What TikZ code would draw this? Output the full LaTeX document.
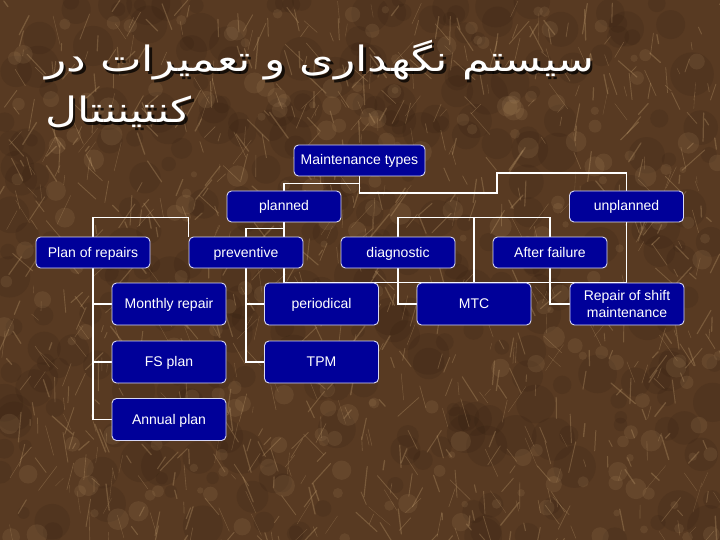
\documentclass[tikz,border=0pt]{standalone}
\usepackage{fontspec}
\usepackage{graphicx}
\setmainfont{Liberation Sans}
\newfontfamily\persianfont[Script=Arabic]{DejaVu Sans}
\TeXXeTstate=1
\usetikzlibrary{backgrounds}
\pgfdeclarelayer{marble}
\pgfsetlayers{marble,background,main}
\definecolor{boxblue}{RGB}{0,0,153}
\definecolor{boxline}{RGB}{215,215,245}
\definecolor{stone}{RGB}{88,58,34}
\definecolor{vein}{RGB}{200,164,116}
\definecolor{pit}{RGB}{40,24,13}
\newcommand{\titlefont}{\persianfont\fontsize{35}{40}\selectfont}
\tikzset{
  boxbase/.style={draw=boxline, fill=boxblue, rounded corners=4.5pt, text=white,
    line width=0.9pt, minimum width=114pt, minimum height=31pt, inner sep=2pt,
    align=center, font=\fontsize{14}{16.5}\selectfont},
  box/.style={boxbase, text height=11pt, text depth=2pt},
  tallbox/.style={box, minimum height=42pt},
  twolinebox/.style={boxbase, minimum height=42pt},
  link/.style={draw=white, line width=1.8pt},
  streak/.style={draw=vein, opacity=0.3, line cap=round},
  titletext/.style={anchor=base west, inner sep=0pt, text=white}
}
\begin{document}
\begin{tikzpicture}[x=1pt,y=-1pt]
\useasboundingbox (0,0) rectangle (720,540);
\begin{pgfonlayer}{marble}
\fill[stone] (0,0) rectangle (720,540);
\begin{scope}
\clip (0,0) rectangle (720,540);
\pgfmathsetseed{11}
\foreach \i in {1,...,320}{
  \pgfmathsetmacro{\px}{720*rnd}
  \pgfmathsetmacro{\py}{540*rnd}
  \pgfmathsetmacro{\pr}{6+16*rnd}
  \fill[pit, opacity=0.14] (\px,\py) circle (\pr);
}
\foreach \i in {1,...,260}{
  \pgfmathsetmacro{\px}{720*rnd}
  \pgfmathsetmacro{\py}{540*rnd}
  \pgfmathsetmacro{\pr}{3+8*rnd}
  \fill[vein, opacity=0.12] (\px,\py) circle (\pr);
}
\foreach \i in {1,...,900}{
  \pgfmathsetmacro{\sx}{720*rnd}
  \pgfmathsetmacro{\sy}{540*rnd}
  \pgfmathsetmacro{\sa}{40+100*rnd}
  \pgfmathsetmacro{\sl}{6+26*rnd}
  \pgfmathsetmacro{\sw}{0.3+1.1*rnd}
  \draw[streak, line width=\sw pt] (\sx,\sy) -- ++(\sa:\sl);
}
\end{scope}
\end{pgfonlayer}

\node[titletext, text=black, opacity=0.75] at (47.5,74.5) {\scalebox{1.26}[1]{\titlefont\beginR سیستم نگهداری و تعمیرات در\endR}};
\node[titletext, text=black, opacity=0.75] at (47.5,125.5) {\scalebox{1.26}[1]{\titlefont\beginR کنتیننتال\endR}};
\node[titletext] (title) at (45,72) {\scalebox{1.26}[1]{\titlefont\beginR سیستم نگهداری و تعمیرات در\endR}};
\node[titletext] (subtitle) at (45,123) {\scalebox{1.26}[1]{\titlefont\beginR کنتیننتال\endR}};

\node[box, minimum width=131pt] (mt) at (359.5,160.5) {Maintenance types};
\node[box] (pl) at (284,206.5) {planned};
\node[box] (un) at (626.5,206.5) {unplanned};
\node[box] (pr) at (93,252.5) {Plan of repairs};
\node[box] (pv) at (246,252.5) {preventive};
\node[box] (dg) at (398,252.5) {diagnostic};
\node[box] (af) at (550,252.5) {After failure};
\node[tallbox] (mo) at (169,304) {Monthly repair};
\node[tallbox] (pe) at (321.5,304) {periodical};
\node[tallbox] (mtc) at (474,304) {MTC};
\node[twolinebox] (rs) at (627,304) {Repair of shift\\maintenance};
\node[tallbox] (fs) at (169,362) {FS plan};
\node[tallbox] (tp) at (321.5,362) {TPM};
\node[tallbox] (an) at (169,419.5) {Annual plan};

\begin{pgfonlayer}{background}
\draw[link] (mt.south) |- (497,193) -- (497,173) -| (un.north);
\draw[link] (mt.south) -- ++(0,7) -| (pl.north);
\draw[link] (pr.north) -- ++(0,-19) -| (pv.north west);
\draw[link] (pv.north) -- ++(0,-8) -| (pl.south);
\draw[link] (pl.south) -- (pl.south |- pe.north) -| (un.south);
\draw[link] (pv.south) |- (pe.west);
\draw[link] (pv.south) |- (tp.west);
\draw[link] (pr.south) |- (mo.west);
\draw[link] (pr.south) |- (fs.west);
\draw[link] (pr.south) |- (an.west);
\draw[link] (dg.north) -- ++(0,-19) -| (af.north);
\draw[link] (mtc.north) -- ++(0,-65);
\draw[link] (dg.south) |- (mtc.west);
\draw[link] (af.south) |- (rs.west);
\end{pgfonlayer}
\end{tikzpicture}
\end{document}
